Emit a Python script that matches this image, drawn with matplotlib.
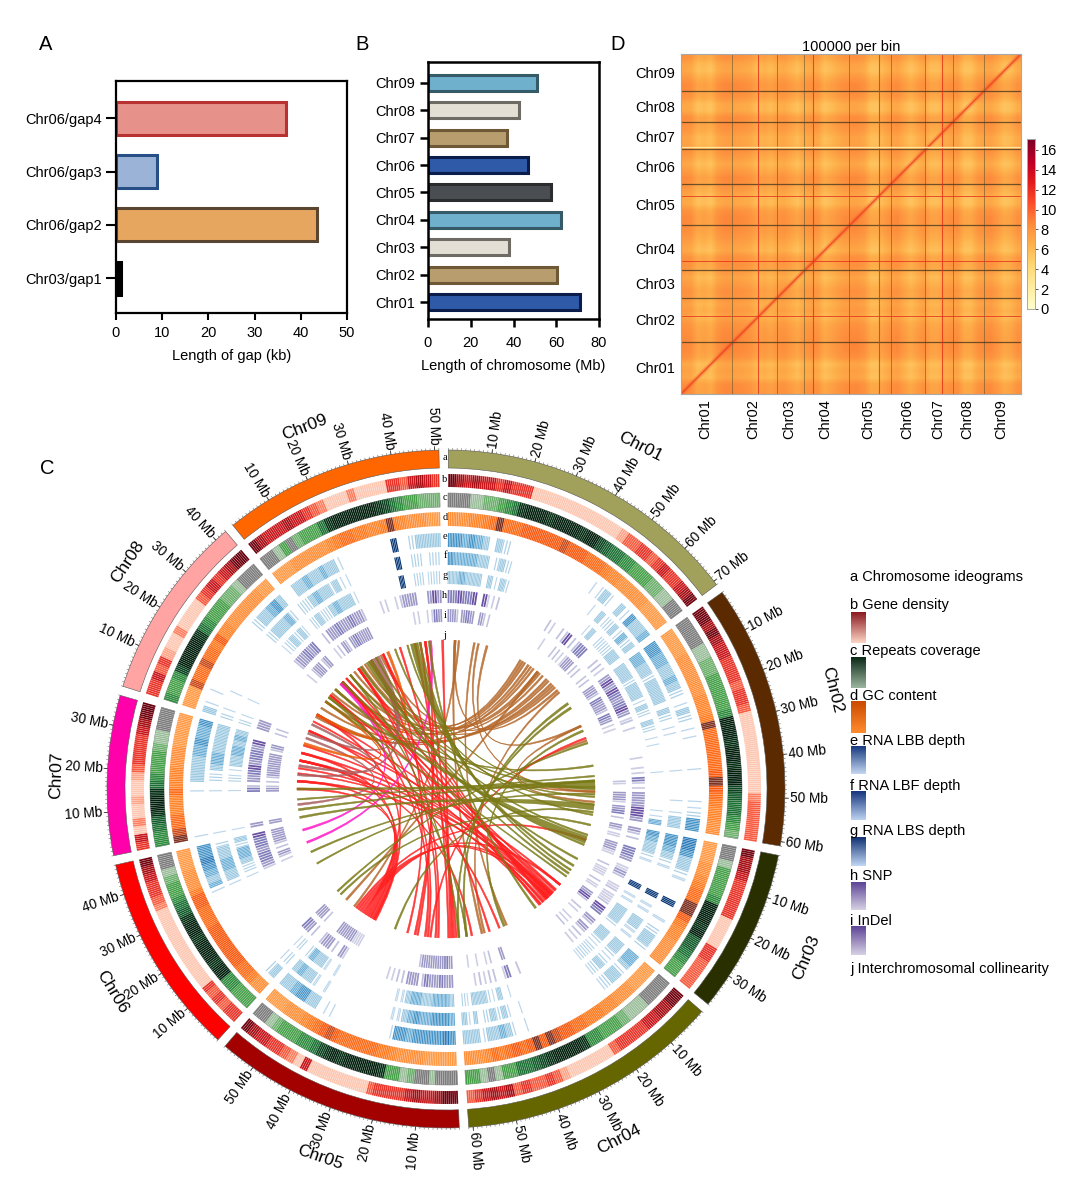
import numpy as np
import matplotlib
matplotlib.use("Agg")
import matplotlib.pyplot as plt
from matplotlib.colors import LinearSegmentedColormap as LSC
from matplotlib.path import Path
from matplotlib.patches import PathPatch

plt.rcParams['font.family'] = ['Liberation Sans', 'DejaVu Sans']

W, H = 1068, 1193
fig = plt.figure(figsize=(W/100, H/100), dpi=100)

def rect(x0, y0, x1, y1):
    return [x0/W, 1-y1/H, (x1-x0)/W, (y1-y0)/H]

# ---------- panel A / B data
GAP_NAMES = ['Chr03/gap1', 'Chr06/gap2', 'Chr06/gap3', 'Chr06/gap4']
GAP_KB = [1.0, 43.5, 8.8, 36.8]
GAP_FILL = ['#000000', '#e6a660', '#9bb3d6', '#e6918a']
GAP_EDGE = ['#000000', '#5a4630', '#274f86', '#b83232']

CHR_NAMES = ['Chr01', 'Chr02', 'Chr03', 'Chr04', 'Chr05', 'Chr06', 'Chr07', 'Chr08', 'Chr09']
CHR_MB = [71, 60.5, 38, 62, 57.5, 47, 37, 42.5, 51]
CHR_FILL = ['#2e5aa8', '#b89e6f', '#e4dfd4', '#6fb0cc', '#4a4d52', '#2e5aa8', '#b89e6f', '#e4dfd4', '#6fb0cc']
CHR_EDGE = ['#0b1d4a', '#6f5836', '#6e6b64', '#355a68', '#2b2c2e', '#0b1d4a', '#6f5836', '#6e6b64', '#355a68']

# ---------- panel D data (read in a 0..1020 grid across the matrix)
HIC_PROFILE = [8.2, 8.0, 6.2, 6.6, 6.0, 7.8, 8.3, 8.4, 8.2, 8.0, 7.6, 6.4, 7.2, 6.6, 7.6, 7.8, 7.0,
               6.2, 7.4, 7.8, 7.8, 6.0, 6.6, 7.4, 8.0, 8.3, 8.3, 7.8, 6.0, 6.0, 7.0, 8.0, 8.2, 7.0,
               6.0, 7.0, 8.0, 6.4, 6.4, 7.4, 8.0, 8.0, 6.0, 6.0, 7.6, 8.2, 8.2, 7.2, 6.0, 6.4, 7.8]
HIC_BASE = 8.5
HIC_BOUNDS_X = [154, 287, 370, 505, 631, 732, 815, 908]
HIC_BOUNDS_Y = [155, 287, 372, 507, 631, 735, 816, 909]
HIC_RED_X = [232, 397, 595, 782]
HIC_RED_Y = [233, 398, 595]
HIC_PALE_Y = [740]
HIC_XTICK = [285, 430, 538, 645, 775, 893, 985, 1072, 1175]
HIC_YTICK = [78, 222, 330, 438, 567, 683, 774, 863, 964]

# ---------- panel C data: chromosomes
CIRC_LEN = [71, 61, 38, 61, 58, 47, 37, 43, 51]
CIRC_COL = ['#a1a15c', '#5c2a00', '#2a2f00', '#666600', '#a30000', '#ff0000', '#ff00aa', '#ffa3a3', '#ff6600']
CIRC_TICK_MAX = [70, 60, 30, 60, 50, 40, 30, 40, 50]
CIRC_LABEL_X = [640, 832, 806, 619, 320, 112, 56, 128, 305]
CIRC_LABEL_Y = [447, 690, 957, 1139, 1157, 992, 775, 562, 427]
CIRC_LABEL_ROT = [-27, -76, 67, 27, -19, -59, 88, 56, 21]

# one digit = colour level of one stretch, clockwise along the chromosome
GENE = ['876766565551111111111112445545655678',
        '887876655545541111111111344444',
        '8776555551111554444',
        '887766555541111112454454767654',
        '887667655554111111116134556678',
        '554545111111111113455678',
        '5613112112455556789',
        '556452113111145656789',
        '87666766543111311115546765']
REPEAT = ['0001122345899989999899765544333221100',
          '000011223333349998998997655432',
          '0013333499989665433',
          '000011123334489999876553310133',
          '000100213389999989875443332100',
          '333449989998998654332100',
          '4456899854333211000',
          '433479999854333221000',
          '00130233358999999875433222']
GC = ['333445696667777778777666544333332222',
      '222233333344459666666797654433',
      '2223345669975443333',
      '222233344555667789797676564333',
      '222223333455666666787654333222',
      '335667777777666775333222',
      '9866444644433322222',
      '222866866574433333322',
      '22233333345665544595433322']
RNA_E = ['554543032000000000000011310315334',
         '554433432013201100001000011255',
         '6653321000800102332',
         '44313321000000000000010134331333',
         '565555545510000000001103355433',
         '320000000000000014345655',
         '1000000103333445445',
         '310100000000000233453',
         '03343343310000000080023333']
RNA_F = ['544443302320000000000000001031231423',
         '443323333032011000001000010133',
         '5543210000801103311',
         '33212321000000000000010132320313',
         '45554454311000000000001013343',
         '210000000000000013344332',
         '1000000102134433333',
         '210010000000000233342',
         '22343323110000000080022022']
RNA_G = ['3343330313200000000000000013022233',
         '333233313203201100001000000114',
         '5433210000801103332',
         '33212221000000000000001031233312',
         '34443344311000000000001013342',
         '210000000000000012234423',
         '1000000102113344343',
         '210010000000000123231',
         '23223433310000000080022122']
SNP = ['445445051120000000000210225224400221',
       '353543453121000001011411333553',
       '3220443013201211254',
       '32322110000000000002041022121000',
       '334334233322110000000001302332',
       '234000000000000013443445',
       '3000000423345344350',
       '330000000000002334340',
       '23343343320001101233300353']
INDEL = ['332343032200000000000010022113322022',
         '332433243110000000000210331342',
         '3210331002110210352',
         '21011200000000000000030021010100',
         '34333332000000000000011333300',
         '233000000000000012322333',
         '3000000322233333230',
         '220000000000001233230',
         '12323433300000000001101143']

# links: both ends in degrees clockwise from the top, ribbon widths in degrees, colour of the link
LINK_OLIVE_A = [347.7, 88, 97, 110, 81, 92, 104, 124.5, 143, 55, 57, 67, 72, 86.8, 89.4, 99,
                85, 87, 90, 93, 96, 100, 108, 112, 118, 123, 126, 172, 175]
LINK_OLIVE_B = [121, 270, 259, 312, 308, 245, 225, 329, 353.5, 172, 175, 157, 226.7, 262, 325, 200,
                266, 240, 345, 320, 332, 340, 330, 316, 328, 350, 306, 308, 320]
LINK_OLIVE_WA = [3.0, 2.7, 2.3, 2.7, 0.7, 0.7, 0.7, 0.8, 0.8, 0.9, 0.9, 0.8, 0.7, 0.8, 0.8, 0.7,
                 0.6, 0.6, 0.6, 0.6, 0.6, 0.6, 0.7, 0.7, 0.7, 0.7, 0.6, 0.6, 0.6]
LINK_RED_A = [130, 132.5, 134, 135, 136, 137, 138, 139, 141, 159, 163, 170, 177, 178, 184, 186, 188, 192, 195, 210, 211, 215, 216, 208.5, 213,
              133, 134.5, 135.5, 136.5, 137.5, 139.5, 140.5, 176, 179, 183, 187, 191, 209, 212, 214, 217]
LINK_RED_B = [293, 316, 309, 284, 324, 281, 335, 273, 316, 293, 324, 281, 352, 358.7, 324, 70, 309, 352, 335, 281, 273, 135, 137, 300, 316,
              300, 287, 276, 318, 330, 297, 278, 342, 348, 330, 316, 350, 270, 284, 130, 110]
LINK_RED_WA = [0.7, 0.7, 0.7, 0.8, 0.8, 0.8, 0.8, 0.8, 0.8, 0.7, 0.7, 0.7, 0.9, 1.0, 0.7, 0.7, 0.8, 0.8, 0.7, 1.2, 1.0, 0.8, 0.8, 1.0, 0.9,
               0.6, 0.6, 0.6, 0.6, 0.6, 0.6, 0.6, 0.7, 0.7, 0.7, 0.7, 0.7, 0.9, 0.9, 0.8, 0.8]
LINK_BROWN_A = [3.5, 11, 12.6, 16, 31, 33.6, 38, 42.5, 45, 48.5, 65, 71, 222, 30, 32, 34.8, 36, 39, 40.5, 43.5, 46, 47, 49.5, 5]
LINK_BROWN_B = [166, 156, 91, 65, 325.5, 312, 329, 300, 306, 3.5, 95, 91, 38, 320, 310, 299, 318, 327, 315, 303, 334, 322, 165, 218]
LINK_BROWN_WA = [0.8, 0.7, 0.7, 0.8, 0.8, 0.8, 0.8, 0.8, 0.8, 0.8, 0.7, 0.7, 0.8, 0.7, 0.7, 0.7, 0.7, 0.7, 0.7, 0.7, 0.7, 0.7, 0.7, 0.7]
LINK_OTHER_A = [332, 264, 279, 292, 337, 287.7, 354, 315]
LINK_OTHER_B = [275.5, 290, 295.7, 330, 300, 306, 249, 254]
LINK_OTHER_WA = [2.7, 0.8, 0.9, 0.8, 1.0, 1.0, 0.9, 0.9]
LINK_OTHER_COL = ['#a86060', '#a86060', '#a86060', '#a86060', '#ea5a05', '#ea5a05', '#ff18c8', '#ff18c8']

LEGEND_TEXT = ['a Chromosome ideograms', 'b Gene density', 'c Repeats coverage', 'd GC content',
               'e RNA LBB depth', 'f RNA LBF depth', 'g RNA LBS depth', 'h SNP', 'i InDel',
               'j Interchromosomal collinearity']
LEGEND_Y = [577, 605, 651, 696, 741, 786, 831, 876, 921, 969]
LEGEND_TOP = ['#8b1a20', '#0b2a17', '#c84800', '#173a80', '#10307a', '#0c2b6e', '#5e4595', '#5e4595']
LEGEND_BOT = ['#fcd4c4', '#9bb59e', '#ff8c2e', '#c4d6f0', '#bcd2f0', '#c0d6f4', '#d6d0e4', '#d6d0e4']
LEGEND_BOX = [(612, 643), (657, 688), (701, 733), (746, 774), (791, 820), (837, 866), (882, 910), (926, 955)]
TRACK_LETTERS = ['a', 'b', 'c', 'd', 'e', 'f', 'g', 'h', 'i', 'j']
TRACK_LETTER_Y = [457, 480, 498, 518, 536, 556, 575, 595, 615, 635]

FS = 10.5

# ---------- panel A
axA = fig.add_axes(rect(116, 81, 347, 313))
axA.barh(range(4), GAP_KB, height=0.62, color=GAP_FILL, edgecolor=GAP_EDGE, linewidth=2.2)
axA.set_xlim(0, 50)
axA.set_ylim(-0.656, 3.70)
axA.set_yticks(range(4), GAP_NAMES, fontsize=FS)
axA.set_xticks(range(0, 51, 10))
axA.tick_params(axis='both', labelsize=FS, width=1.5, length=7, pad=3)
axA.tick_params(axis='x', length=5, pad=4)
axA.set_xlabel('Length of gap (kb)', fontsize=FS, labelpad=7)
for s in axA.spines.values():
    s.set_linewidth(1.6)

# ---------- panel B
axB = fig.add_axes(rect(428, 62, 599, 319))
axB.barh(range(9), CHR_MB, height=0.58, color=CHR_FILL, edgecolor=CHR_EDGE, linewidth=2.2)
axB.set_xlim(0, 80)
axB.set_ylim(-0.62, 8.76)
axB.set_yticks(range(9), CHR_NAMES, fontsize=FS)
axB.set_xticks(range(0, 81, 20))
axB.tick_params(axis='both', labelsize=FS, width=1.8, length=6)
axB.tick_params(axis='x', pad=6)
axB.set_xlabel('Length of chromosome (Mb)', fontsize=FS, labelpad=7)
for s in axB.spines.values():
    s.set_linewidth(1.8)

# ---------- panel D
axD = fig.add_axes(rect(681, 54, 1021, 394))
prof = np.array(HIC_PROFILE)
dev = prof - HIC_BASE
M = 9.0 + 0.72*dev[:, None] + 0.72*dev[None, :]
cm = plt.cm.YlOrRd
axD.imshow(M, origin='lower', extent=(0, 1020, 0, 1020), cmap=cm, vmin=0, vmax=17,
           interpolation='bilinear', aspect='auto')
axD.plot([0, 1020], [0, 1020], color=cm(11.5/17), lw=3.5, alpha=0.2, solid_capstyle='butt')
axD.plot([0, 1020], [0, 1020], color='#f0421f', lw=1.2, alpha=0.8, solid_capstyle='butt')
for v in HIC_BOUNDS_X:
    axD.axvline(v, color='#70602a', lw=0.7, alpha=0.65)
for v in HIC_BOUNDS_Y:
    axD.axhline(v, color='#4a3a20', lw=0.9, alpha=0.8)
for v in HIC_RED_X:
    axD.axvline(v, color='#e53018', lw=0.8, alpha=0.8)
for v in HIC_RED_Y:
    axD.axhline(v, color='#e53018', lw=0.7, alpha=0.8)
for v in HIC_PALE_Y:
    axD.axhline(v, color='#ffe59a', lw=1.0)
axD.set_xlim(0, 1020)
axD.set_ylim(0, 1020)
axD.set_xticks([v-213 for v in HIC_XTICK], CHR_NAMES, rotation=90, fontsize=FS)
axD.set_yticks(HIC_YTICK, CHR_NAMES, fontsize=FS)
axD.tick_params(length=0, pad=4)
axD.set_title('100000 per bin', fontsize=FS, pad=2)
for s in axD.spines.values():
    s.set_color('#a8a8a8')
    s.set_linewidth(0.8)

axC = fig.add_axes(rect(1027, 139, 1035, 309))
axC.imshow(np.linspace(17.1, 0, 256)[:, None], extent=(0, 1, 0, 17.1), cmap=cm, vmin=0, vmax=17, aspect='auto')
axC.set_xticks([])
axC.yaxis.tick_right()
axC.set_yticks(range(0, 17, 2))
axC.tick_params(labelsize=FS, length=2.5, width=0.7, pad=1.5, color='#555555')
for s in axC.spines.values():
    s.set_color('#a8a8a8')
    s.set_linewidth(0.7)

# ---------- panel C rings
R = 400
pol = fig.add_axes(rect(446-R, 789-R, 446+R, 789+R), projection='polar')
pol.set_theta_zero_location('N')
pol.set_theta_direction(-1)
pol.set_rlim(0, R)
pol.axis('off')
pol.patch.set_alpha(0)

GAP_DEG = 1.6
scale = (360 - GAP_DEG*9) / sum(CIRC_LEN)
starts = []
a = 0.4
for L in CIRC_LEN:
    starts.append(a)
    a += L*scale + GAP_DEG

cm_red = plt.cm.Reds
cm_green = LSC.from_list('g', ['#7c7c7c', '#9bbf9b', '#6cb06c', '#45a048', '#2c8a3c', '#1b7034', '#125a2a', '#0a4220', '#042e14', '#001e0c'])
cm_orange = LSC.from_list('o', ['#ffb066', '#ffa355', '#ff9a45', '#ff8f38', '#ff852a', '#ff7a1e', '#fd6c18', '#fb5a10', '#cc4a18', '#7c3020'])
cm_blue = plt.cm.Blues
cm_purple = plt.cm.Purples
BLUE_SHADE = [0, 0.28, 0.32, 0.38, 0.5, 0.62, 0.72, 0.85, 0.97, 1.0]
PURPLE_SHADE = [0, 0.3, 0.35, 0.5, 0.62, 0.75, 0.85, 0.9, 0.95, 1.0]

TRACKS = [(GENE, 315, 302, lambda v: cm_red(0.1+0.11*v), False, 0.5, 0.88),
          (REPEAT, 296, 282, lambda v: cm_green(v/9), False, 0.5, 0.88),
          (GC, 277, 263, lambda v: cm_orange(v/9), False, 0.5, 0.9),
          (RNA_E, 256, 242, lambda v: cm_blue(BLUE_SHADE[v]), True, 0.5, 0.8),
          (RNA_F, 237, 224, lambda v: cm_blue(BLUE_SHADE[v]), True, 0.5, 0.8),
          (RNA_G, 218, 205, lambda v: cm_blue(BLUE_SHADE[v]), True, 0.5, 0.8),
          (SNP, 199, 186, lambda v: cm_purple(PURPLE_SHADE[v]), True, 1.0, 0.72),
          (INDEL, 180, 167, lambda v: cm_purple(PURPLE_SHADE[v]), True, 1.0, 0.72)]
for ti, (rows, r1, r0, colour, skip, step, frac) in enumerate(TRACKS):
    lw_pt = (r0+r1)/2 * np.deg2rad(step*scale) * frac * 0.72
    for ci, s in enumerate(rows):
        L = CIRC_LEN[ci]
        th, cols = [], []
        n = int(L/step)
        bw = L/len(s)
        for k in range(n):
            pos = (k+0.5)*step
            bi = min(int(pos/bw), len(s)-1)
            d = int(s[bi])
            if skip and d == 0:
                continue
            if skip and d == 1 and not (abs(pos - (bi+0.5)*bw) < step/2 + 1e-6):
                continue
            if skip and d == 2 and k % 2:
                continue
            th.append(np.deg2rad(starts[ci] + pos*scale))
            cols.append(colour(d))
        pol.vlines(th, r0, r1, colors=cols, linewidth=lw_pt, capstyle='butt')
        if ti == 1:
            pol.bar(np.deg2rad(starts[ci] + L*scale/2), r1-r0, width=np.deg2rad(L*scale), bottom=r0,
                    fill=False, edgecolor='#777777', linewidth=0.4)

for ci, L in enumerate(CIRC_LEN):
    st = starts[ci]
    mid = st + L*scale/2
    pol.bar(np.deg2rad(mid), 18, width=np.deg2rad(L*scale), bottom=321, color=CIRC_COL[ci],
            edgecolor='#555555', linewidth=0.4)
    mb = np.arange(0, L+1)
    th = np.deg2rad(st + mb*scale)
    pol.vlines(th, 339, 341, color='#666666', linewidth=0.4)
    maj = np.arange(10, CIRC_TICK_MAX[ci]+1, 10)
    thm = st + maj*scale
    pol.vlines(np.deg2rad(thm), 339, 343, color='#333333', linewidth=0.6)
    for m, t in zip(maj, thm):
        right = t < 180
        rot = 90 - t if right else 270 - t
        pol.text(np.deg2rad(t), 344, f'{m} Mb', rotation=rot, rotation_mode='anchor',
                 ha='left' if right else 'right', va='center', fontsize=9.8)
    fig.text(CIRC_LABEL_X[ci]/W, 1-CIRC_LABEL_Y[ci]/H, CHR_NAMES[ci], rotation=CIRC_LABEL_ROT[ci],
             rotation_mode='anchor', ha='center', va='center', fontsize=12.5)

# ---------- panel C links
lnk = fig.add_axes(rect(446-R, 789-R, 446+R, 789+R))
lnk.set_xlim(-R, R)
lnk.set_ylim(-R, R)
lnk.axis('off')
lnk.patch.set_alpha(0)
RL = 149

def pt(deg):
    t = np.deg2rad(deg)
    return (RL*np.sin(t), RL*np.cos(t))

def ribbon(a, b, wa, colour):
    wb = min(wa, 0.8)
    verts = [pt(a-wa/2), pt(a+wa/2), (0, 0), pt(b-wb/2), pt(b+wb/2), (0, 0), pt(a-wa/2), pt(a-wa/2)]
    codes = [Path.MOVETO, Path.LINETO, Path.CURVE3, Path.CURVE3, Path.LINETO, Path.CURVE3, Path.CURVE3, Path.CLOSEPOLY]
    lnk.add_patch(PathPatch(Path(verts, codes), facecolor=colour, edgecolor=colour, linewidth=0.35, alpha=0.85))

for a, b, w in zip(LINK_BROWN_A, LINK_BROWN_B, LINK_BROWN_WA):
    ribbon(a, b, w, '#b5682a')
for a, b, w in zip(LINK_RED_A, LINK_RED_B, LINK_RED_WA):
    ribbon(a, b, w, '#ff2020')
for a, b, w, c in zip(LINK_OTHER_A, LINK_OTHER_B, LINK_OTHER_WA, LINK_OTHER_COL):
    ribbon(a, b, w, c)
for a, b, w in zip(LINK_OLIVE_A, LINK_OLIVE_B, LINK_OLIVE_WA):
    ribbon(a, b, w, '#7a7a18')

# ---------- texts, legend
for txt, x, y in zip(['A', 'B', 'D', 'C'], [39, 355, 610, 40], [44, 44, 44, 469]):
    fig.text(x/W, 1-y/H, txt, fontsize=14.5, va='center', ha='left')
for txt, y in zip(TRACK_LETTERS, TRACK_LETTER_Y):
    fig.text(445/W, 1-y/H, txt, fontsize=7.5, family=['Liberation Serif'], ha='center', va='center')
for txt, y in zip(LEGEND_TEXT, LEGEND_Y):
    fig.text(850/W, 1-y/H, txt, fontsize=10.5, va='center', ha='left')
for top, bot, (y0, y1) in zip(LEGEND_TOP, LEGEND_BOT, LEGEND_BOX):
    g = fig.add_axes(rect(851, y0, 866, y1))
    g.imshow(np.linspace(0, 1, 64)[:, None], cmap=LSC.from_list('x', [top, bot]), aspect='auto')
    g.axis('off')

fig.savefig('out.png', dpi=100)
